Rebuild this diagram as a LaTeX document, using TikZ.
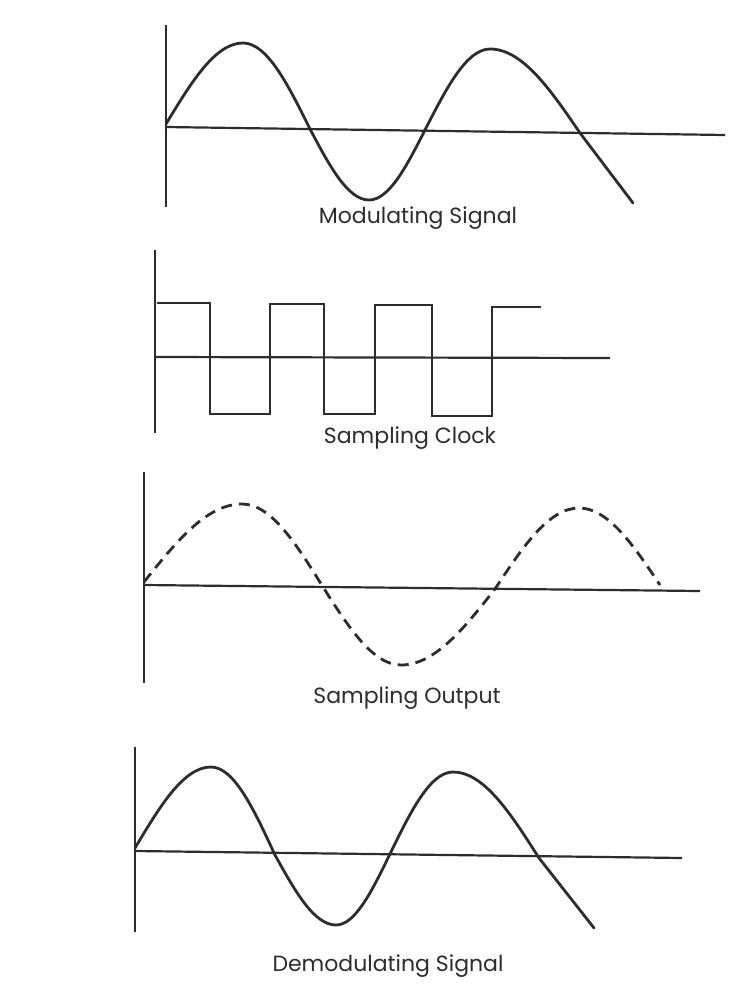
\documentclass[tikz,border=0pt]{standalone}
\usepackage{fontspec}
\setmainfont{Poppins}
\usetikzlibrary{positioning}
\definecolor{inkgray}{RGB}{45,45,45}

\begin{document}
\begin{tikzpicture}[x=1pt, y=-1pt,
  axis/.style={draw=inkgray, line width=2.2pt},
  wave/.style={draw=inkgray, line width=2.8pt, line join=round, line cap=round},
  sampled/.style={draw=inkgray, line width=2.8pt, dash pattern=on 11pt off 7pt},
  clock/.style={draw=inkgray, line width=2.2pt, line join=miter},
  caption/.style={font=\fontsize{22}{26}\selectfont, text=inkgray, inner sep=0pt},
]
\useasboundingbox[fill=white] (0,0) rectangle (731,991);

% ---- Modulating Signal ----
\coordinate (mtop) at (166,25);
\coordinate (mbot) at (166,207);
\coordinate (mleft) at (166,127);
\coordinate (mright) at (725,135);
\draw[axis] (mtop) -- (mbot);
\draw[axis] (mleft) -- (mright);
\draw[wave] (166,124) sin (243,43) cos (310,129) sin (369,200)
  cos (425,130) sin (490,49) cos (580,133) -- (633,203);
\node[caption] (modlbl) at (418,218) {Modulating Signal};

% ---- Sampling Clock ----
\coordinate (ctop) at (155,250);
\coordinate (cbot) at (155,433);
\coordinate (cleft) at (155,357);
\coordinate (cright) at (610,358);
\draw[axis] (ctop) -- (cbot);
\draw[axis] (cleft) -- (cright);
\draw[clock] (157,303) -- (210,303) -- (210,414) -- (270,414)
  -- (270,304) -- (324,304) -- (324,414) -- (375,414)
  -- (375,305) -- (432,305) -- (432,416) -- (492,416)
  -- (492,307) -- (541,307);
\node[caption] (clklbl) at (410,438) {Sampling Clock};

% ---- Sampling Output ----
\coordinate (stop) at (144,472);
\coordinate (sbot) at (144,683);
\coordinate (sleft) at (144,585);
\coordinate (sright) at (700,591);
\draw[axis, line width=2.8pt] (stop) -- (sbot);
\draw[axis] (sleft) -- (sright);
\draw[sampled] (144,582) sin (242,504) cos (323,587) sin (401,665)
  cos (495,589) sin (579,508) cos (660,585);
\node[caption] (outlbl) at (407,698) {Sampling Output};

% ---- Demodulating Signal ----
\coordinate (dtop) at (135,747);
\coordinate (dbot) at (135,932);
\coordinate (dleft) at (135,851);
\coordinate (dright) at (682,858);
\draw[axis] (dtop) -- (dbot);
\draw[axis] (dleft) -- (dright);
\draw[wave] (135,848) sin (211,767) cos (275,855) sin (336,925)
  cos (389,856) sin (453,772) cos (539,858) -- (594,928);
\node[caption] (demlbl) at (388,966) {Demodulating Signal};

\end{tikzpicture}
\end{document}
